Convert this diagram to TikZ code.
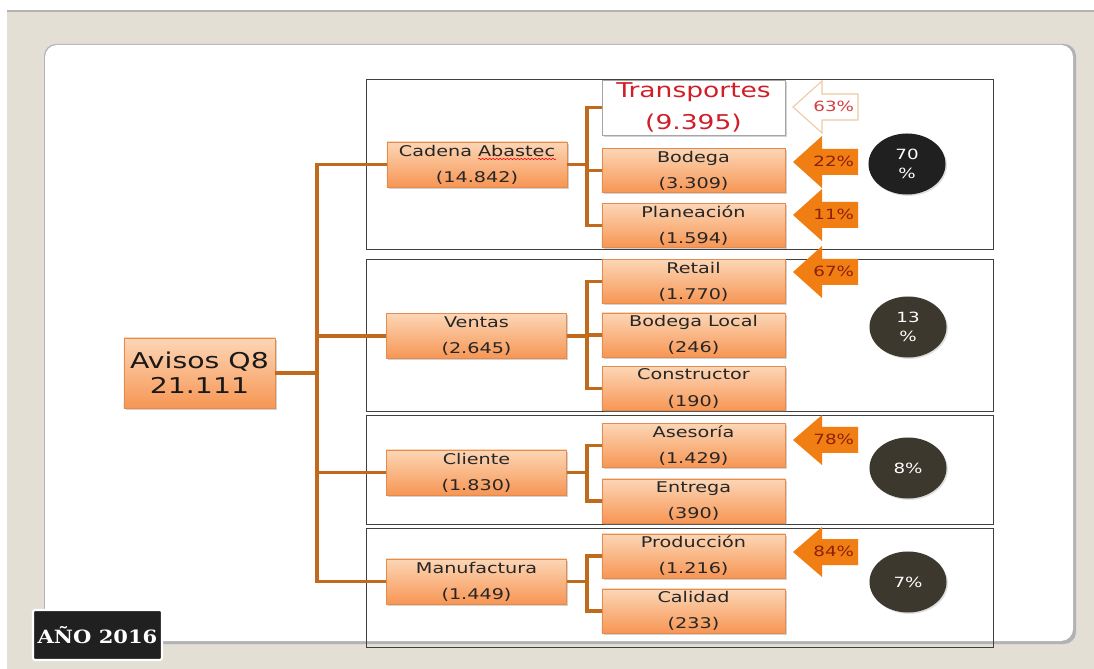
\documentclass[tikz,border=0pt]{standalone}
\usepackage{fontspec}
\setmainfont{DejaVu Sans}[FakeStretch=1.3]
\newfontfamily\yearfont{DejaVu Serif}[FakeStretch=1.15]
\usetikzlibrary{shapes.geometric,shadows,decorations.pathmorphing}
\definecolor{beige}{RGB}{228,223,213}
\definecolor{linkbrown}{RGB}{192,106,30}
\definecolor{peach}{RGB}{252,214,182}
\definecolor{peachdark}{RGB}{247,150,84}
\definecolor{peachline}{RGB}{228,140,80}
\definecolor{arroworange}{RGB}{240,126,18}
\definecolor{pctred}{RGB}{140,32,10}
\definecolor{transred}{RGB}{208,30,40}
\definecolor{circdark}{RGB}{60,56,46}
\definecolor{circblack}{RGB}{32,32,32}
\begin{document}
\begin{tikzpicture}[x=0.025cm, y=-0.025cm,
    boxbase/.style={rectangle, line width=0.4pt,
        drop shadow={opacity=0.35, shadow xshift=1.2pt, shadow yshift=-1.2pt},
        align=center, inner sep=0pt, text=black!85, font=\fontsize{10.5}{18.5}\selectfont},
    box/.style={boxbase, top color=peach, bottom color=peachdark, draw=peachline},
    lvlone/.style={box, minimum width=4.5cm, minimum height=1.125cm},
    lvltwo/.style={box, minimum width=4.575cm, minimum height=1.1cm},
    link/.style={draw=linkbrown, line width=2.6pt},
    frame/.style={draw=black!75, line width=0.7pt},
    pctarrow/.style={fill=arroworange},
    pcttext/.style={anchor=east, text=pctred, font=\fontsize{10}{12}\selectfont},
    pctcircle/.style={ellipse, minimum width=1.925cm, minimum height=1.525cm, inner sep=0pt,
        align=center, text=white, drop shadow={opacity=0.25, shadow xshift=1pt, shadow yshift=-1pt},
        font=\fontsize{10}{13.5}\selectfont}]
\useasboundingbox (0,0) rectangle (1094,669);
% background and panel
\fill[beige] (0,12) rectangle (1094,669);
\fill[white] (0,12) rectangle (7,669);
\draw[black!30, line width=1.5pt] (7,11) -- (1094,11);
\fill[black!30, rounded corners=0.3cm] (44,44) rectangle (1076,644);
\fill[white, rounded corners=0.3cm] (45,45) rectangle (1073,641);
% frames
\draw[frame] (366,79) rectangle (993,249);
\draw[frame] (366,259) rectangle (993,411);
\draw[frame] (366,415) rectangle (993,524);
\draw[frame] (366,528) rectangle (993,647);
% nodes
\node[box, minimum width=3.775cm, minimum height=1.75cm, font=\fontsize{15.5}{17.5}\selectfont, text=black!90] (avisos) at (199.5,373) {Avisos Q8\\21.111};
\node[lvlone] (cadena) at (477,164.5) {Cadena Abastec\\(14.842)};
\node[lvlone] (ventas) at (476.5,336) {Ventas\\(2.645)};
\node[lvlone] (cliente) at (476.5,472.5) {Cliente\\(1.830)};
\node[lvlone] (manufactura) at (476.5,581.5) {Manufactura\\(1.449)};
\node[boxbase, fill=white, draw=black!35, minimum width=4.575cm, minimum height=1.375cm, text=transred, font=\fontsize{14.5}{22.5}\selectfont] (transportes) at (693.5,107.5) {Transportes\\(9.395)};
\node[lvltwo] (bodega) at (693.5,170.5) {Bodega\\(3.309)};
\node[lvltwo] (planeacion) at (693.5,225.5) {Planeación\\(1.594)};
\node[lvltwo] (retail) at (693.5,281.5) {Retail\\(1.770)};
\node[lvltwo] (bodegalocal) at (693.5,335) {Bodega Local\\(246)};
\node[lvltwo] (constructor) at (693.5,388.5) {Constructor\\(190)};
\node[lvltwo] (asesoria) at (693.5,445.5) {Asesoría\\(1.429)};
\node[lvltwo] (entrega) at (693.5,501) {Entrega\\(390)};
\node[lvltwo] (produccion) at (693.5,556) {Producción\\(1.216)};
\node[lvltwo] (calidad) at (693.5,611) {Calidad\\(233)};
\draw[red, line width=0.4pt, decorate, decoration={snake, amplitude=0.5pt, segment length=2.5pt}] (478,159) -- (556,159);
% connectors
\draw[link] (avisos.east) -- ++(42,0) |- (cadena.west);
\draw[link] (avisos.east) -- ++(42,0) |- (ventas.west);
\draw[link] (avisos.east) -- ++(42,0) |- (cliente.west);
\draw[link] (avisos.east) -- ++(42,0) |- (manufactura.west);
\draw[link] (cadena.east) -- ++(20,0) |- (transportes.west);
\draw[link] (cadena.east) -- ++(20,0) |- (bodega.west);
\draw[link] (cadena.east) -- ++(20,0) |- (planeacion.west);
\draw[link] (ventas.east) -- ++(20,0) |- (retail.west);
\draw[link] (ventas.east) -- ++(20,0) |- (bodegalocal.west);
\draw[link] (ventas.east) -- ++(20,0) |- (constructor.west);
\draw[link] (cliente.east) -- ++(20,0) |- (asesoria.west);
\draw[link] (cliente.east) -- ++(20,0) |- (entrega.west);
\draw[link] (manufactura.east) -- ++(20,0) |- (produccion.west);
\draw[link] (manufactura.east) -- ++(20,0) |- (calidad.west);
% arrows
\draw[fill=white, draw={rgb,255:red,236;green,204;blue,164}, line width=0.8pt] (793,107) -- ++(29,-26) -- ++(0,13) -- ++(36,0) -- ++(0,26) -- ++(-36,0) -- ++(0,13) -- cycle;
\node[pcttext, text={rgb,255:red,212;green,62;blue,62}] (p63) at (859,106) {63\%};
\fill[pctarrow] (793,162) -- ++(29,-26) -- ++(0,13) -- ++(36,0) -- ++(0,26) -- ++(-36,0) -- ++(0,13) -- cycle;
\node[pcttext] (p22) at (859,161) {22\%};
\fill[pctarrow] (793,215) -- ++(29,-26) -- ++(0,13) -- ++(36,0) -- ++(0,26) -- ++(-36,0) -- ++(0,13) -- cycle;
\node[pcttext] (p11) at (859,214) {11\%};
\fill[pctarrow] (793,272) -- ++(29,-26) -- ++(0,13) -- ++(36,0) -- ++(0,26) -- ++(-36,0) -- ++(0,13) -- cycle;
\node[pcttext] (p67) at (859,271) {67\%};
\fill[pctarrow] (793,440) -- ++(29,-25) -- ++(0,12) -- ++(36,0) -- ++(0,26) -- ++(-36,0) -- ++(0,12) -- cycle;
\node[pcttext] (p78) at (859,439) {78\%};
\fill[pctarrow] (793,552) -- ++(29,-25) -- ++(0,12) -- ++(36,0) -- ++(0,26) -- ++(-36,0) -- ++(0,12) -- cycle;
\node[pcttext] (p84) at (859,551) {84\%};
% circles
\node[pctcircle, fill=circblack] (c70) at (907,164) {70\\\%};
\node[pctcircle, fill=circdark] (c13) at (908,327) {13\\\%};
\node[pctcircle, fill=circdark] (c8) at (908,468) {8\%};
\node[pctcircle, fill=circdark] (c7) at (908,582) {7\%};
% year label
\node[fill=circblack, draw=white, line width=1.5pt, rounded corners=1.5pt, minimum width=3.225cm, minimum height=1.25cm, inner sep=0pt, text=white, font=\yearfont\bfseries\fontsize{13}{15}\selectfont] (anio) at (97.5,635) {AÑO 2016};
\end{tikzpicture}
\end{document}
